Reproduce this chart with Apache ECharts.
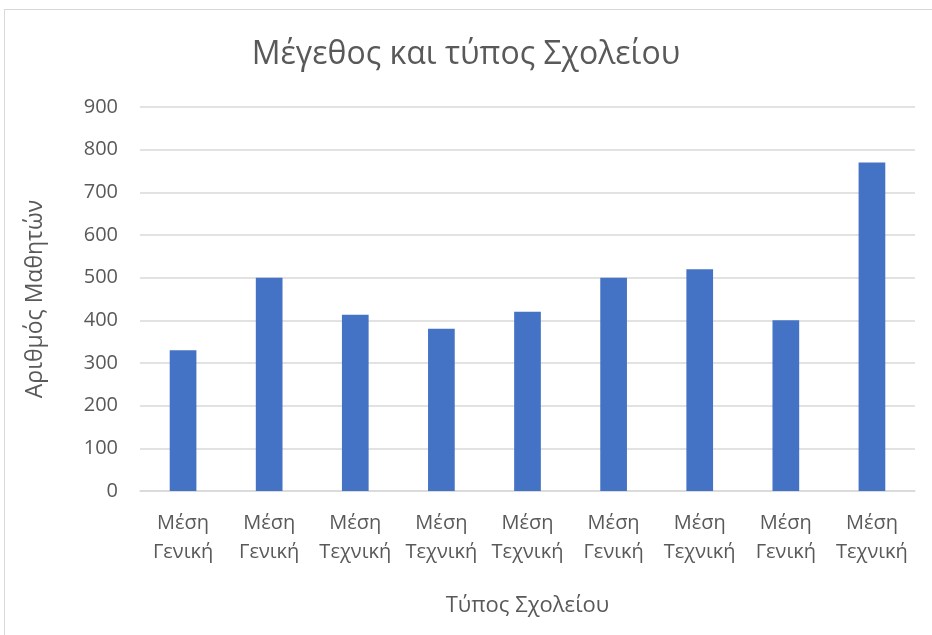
<!DOCTYPE html>
<html>
<head>
<meta charset="utf-8">
<script src="https://cdn.jsdelivr.net/npm/echarts@6/dist/echarts.min.js"></script>
<style>
  html, body { margin: 0; padding: 0; background: #fff; }
  #frame { position: absolute; left: 4px; top: 9px; width: 940px; height: 640px; border: 1px solid #d9d9d9; box-sizing: border-box; }
  #chart { position: absolute; left: 0; top: 0; width: 932px; height: 635px; }
</style>
</head>
<body>
<div id="frame"></div>
<div id="chart"></div>
<script>
// Data
const categories = [
  "Μέση\nΓενική", "Μέση\nΓενική", "Μέση\nΤεχνική", "Μέση\nΤεχνική", "Μέση\nΤεχνική",
  "Μέση\nΓενική", "Μέση\nΤεχνική", "Μέση\nΓενική", "Μέση\nΤεχνική"
];
const students = [330, 500, 413, 380, 420, 500, 520, 400, 770];
const yTicks = { min: 0, max: 900, interval: 100 };

const textColor = "#595959";
const font = "'Open Sans', 'Noto Sans', sans-serif";

let chart = echarts.init(document.getElementById("chart"));
chart.setOption({
  animation: false,
  title: {
    text: "Μέγεθος και τύπος Σχολείου",
    left: "center",
    top: 34,
    textStyle: { color: textColor, fontFamily: font, fontSize: 32, fontWeight: "normal" }
  },
  grid: { left: 140, right: 17, top: 107, bottom: 144 },
  xAxis: {
    type: "category",
    data: categories,
    name: "Τύπος Σχολείου",
    nameLocation: "middle",
    nameGap: 104,
    nameTextStyle: { color: textColor, fontFamily: font, fontSize: 22 },
    axisLine: { lineStyle: { color: "#d9d9d9", width: 1.5 } },
    axisTick: { show: false },
    axisLabel: { color: textColor, fontFamily: font, fontSize: 20, lineHeight: 29, margin: 18, interval: 0 }
  },
  yAxis: {
    type: "value",
    min: yTicks.min,
    max: yTicks.max,
    interval: yTicks.interval,
    name: "Αριθμός Μαθητών",
    nameLocation: "middle",
    nameGap: 93,
    nameTextStyle: { color: textColor, fontFamily: font, fontSize: 23 },
    axisLine: { show: false },
    axisTick: { show: false },
    axisLabel: { color: textColor, fontFamily: font, fontSize: 20, margin: 22 },
    splitLine: { lineStyle: { color: "#d9d9d9", width: 1.5 } }
  },
  series: [{
    type: "bar",
    data: students,
    barWidth: "31%",
    itemStyle: { color: "#4472C4" }
  }]
});
</script>
</body>
</html>
